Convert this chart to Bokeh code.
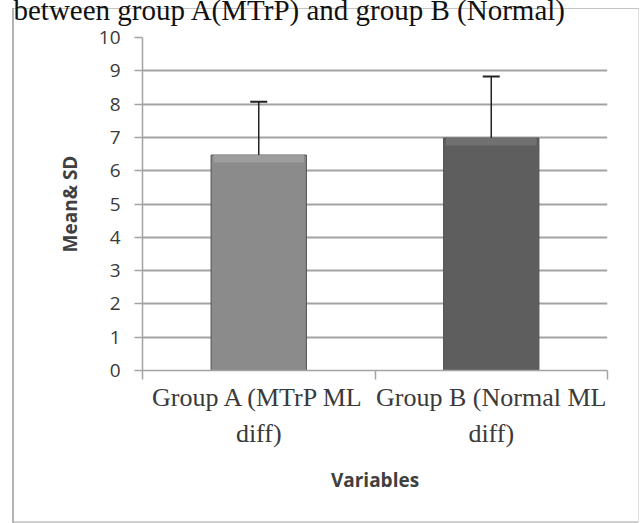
from bokeh.plotting import figure
from bokeh.models import (Range1d, FixedTicker, Whisker, TeeHead, ColumnDataSource, Title)
from bokeh.embed import file_html
from bokeh.resources import INLINE

# ---- data ----
categories = ["Group A (MTrP ML diff)", "Group B (Normal ML diff)"]
tick_labels = ["Group A (MTrP ML\ndiff)", "Group B (Normal ML\ndiff)"]
means = [6.47, 6.98]
sds = [1.60, 1.85]
bar_colors = ["#8b8b8b", "#5e5e5e"]
bevel_colors = ["#a3a3a3", "#767676"]
y_ticks = list(range(0, 11))
title_text = "between group A(MTrP) and group B (Normal)"
x_title = "Variables"
y_title = "Mean& SD"

xs = [i + 0.5 for i in range(len(categories))]
bounds = [i for i in range(len(categories) + 1)]
BEVEL = 0.22
src = ColumnDataSource(dict(
    x=xs, mean=means,
    bevel_bottom=[m - BEVEL for m in means],
    upper=[m + s for m, s in zip(means, sds)],
    lower=[m - s for m, s in zip(means, sds)],
    color=bar_colors, bevel=bevel_colors,
))

# The canvas is taller than the window by K px and shifted up by K px, so the
# document line above the chart is cut at the page top as in the reference.
K = 30
W, H = 643, 523 + K
frame_css = {
    "margin-top": f"-{K}px",
    "background-image": ("linear-gradient(#b4b4b4,#b4b4b4), linear-gradient(#c4c4c4,#c4c4c4), "
                         "linear-gradient(#e2e2e2,#e2e2e2), linear-gradient(#cfcfcf,#cfcfcf)"),
    "background-position": f"12px {8 + K}px, 12px {8 + K}px, 638px {8 + K}px, 12px {521 + K}px",
    "background-size": "2px 515px, 627px 1px, 1px 515px, 627px 2px",
    "background-repeat": "no-repeat",
}

p = figure(width=W, height=H, output_backend="svg", toolbar_location=None,
           x_range=Range1d(0, len(categories)), y_range=Range1d(0, 10),
           min_border_left=142, min_border_right=36, min_border_top=37 + K,
           min_border_bottom=153, styles=frame_css)
p.title = Title(text=title_text, align="left", offset=-129, standoff=23,
                text_font="Liberation Serif", text_font_size="29px",
                text_font_style="normal", text_color="#111111")
p.outline_line_color = None
p.background_fill_color = "white"
p.border_fill_color = None

GRID = "#a3a3a3"

# y axis
p.yaxis.ticker = FixedTicker(ticks=y_ticks, minor_ticks=[])
p.yaxis.axis_line_color = GRID
p.yaxis.axis_line_width = 1.5
p.yaxis.major_tick_line_color = GRID
p.yaxis.major_tick_line_width = 1.5
p.yaxis.major_tick_out = 8
p.yaxis.major_tick_in = 0
p.yaxis.minor_tick_line_color = None
p.yaxis.major_label_text_font = "Open Sans"
p.yaxis.major_label_text_font_size = "19px"
p.yaxis.major_label_text_color = "#3a3a3a"
p.yaxis.major_label_standoff = 14
p.yaxis.axis_label = y_title
p.yaxis.axis_label_text_font = "Open Sans"
p.yaxis.axis_label_text_font_size = "19px"
p.yaxis.axis_label_text_font_style = "bold"
p.yaxis.axis_label_text_color = "#404040"
p.yaxis.axis_label_standoff = 13

# x axis
p.xaxis.ticker = FixedTicker(ticks=xs, minor_ticks=bounds)
p.xaxis.major_label_overrides = {x: lab for x, lab in zip(xs, tick_labels)}
p.xaxis.axis_line_color = GRID
p.xaxis.axis_line_width = 1.5
p.xaxis.major_tick_line_color = None
p.xaxis.major_tick_out = 0
p.xaxis.major_tick_in = 0
p.xaxis.minor_tick_line_color = GRID
p.xaxis.minor_tick_line_width = 1.5
p.xaxis.minor_tick_out = 9
p.xaxis.minor_tick_in = 0
p.xaxis.major_label_text_font = "Liberation Serif"
p.xaxis.major_label_text_font_size = "26px"
p.xaxis.major_label_text_color = "#3a3a3a"
p.xaxis.major_label_text_line_height = 1.25
p.xaxis.major_label_standoff = 3
p.xaxis.axis_label = x_title
p.xaxis.axis_label_text_font = "Open Sans"
p.xaxis.axis_label_text_font_size = "19px"
p.xaxis.axis_label_text_font_style = "bold"
p.xaxis.axis_label_text_color = "#404040"
p.xaxis.axis_label_standoff = 16

p.xgrid.visible = False
p.ygrid.ticker = FixedTicker(ticks=y_ticks, minor_ticks=[])
p.ygrid.grid_line_color = GRID
p.ygrid.grid_line_width = 2

# bars (with a lighter bevel band along the top)
p.vbar(x="x", top="mean", bottom=0, width=0.41, fill_color="color",
       line_color="#505050", line_width=1, source=src)
p.vbar(x="x", top="mean", bottom="bevel_bottom", width=0.39, fill_color="bevel",
       line_color=None, fill_alpha=0.8, source=src)

# error bars
w = Whisker(base="x", upper="upper", lower="lower", source=src,
            line_color="#222222", line_width=1.5,
            upper_head=TeeHead(size=17, line_color="#222222", line_width=2),
            lower_head=TeeHead(size=17, line_color="#222222", line_width=2))
p.add_layout(w)

open("out.html", "w").write(file_html(p, INLINE))
